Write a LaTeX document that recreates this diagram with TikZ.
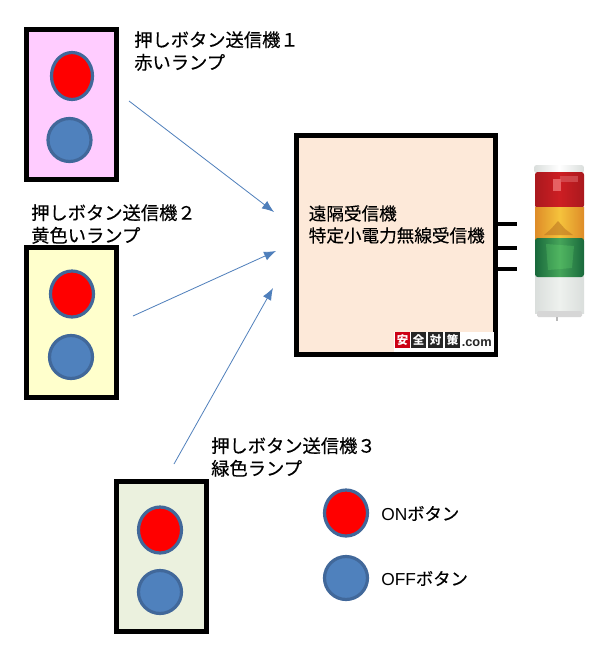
\documentclass[tikz,border=0pt]{standalone}
\usepackage{fontspec}
\setmainfont{Noto Sans CJK JP}
\newfontfamily\jpbold[FakeBold=0.3]{Noto Sans CJK JP}
\newfontfamily\latinsans{Liberation Sans}
\usetikzlibrary{arrows.meta}
\definecolor{rim}{HTML}{41689A}
\definecolor{bluefill}{HTML}{4F81BD}
\definecolor{arrowblue}{HTML}{4F7FBB}
\definecolor{lampred}{RGB}{205,30,35}
\definecolor{lampreddk}{RGB}{170,25,30}
\definecolor{lampyel}{RGB}{245,195,60}
\definecolor{lampyeldk}{RGB}{222,140,40}
\definecolor{lampgrn}{RGB}{70,165,90}
\definecolor{lampgrndk}{RGB}{25,105,60}
\definecolor{lampbase}{RGB}{238,241,238}
\definecolor{lampbasedk}{RGB}{218,222,220}
\tikzset{
  x=0.75pt,y=-0.75pt,
  panel/.style={draw=black,line width=3.75pt,inner sep=0pt,minimum width=67.5pt,minimum height=112.5pt},
  label/.style={anchor=north west,inner sep=0pt,font=\jpbold\fontsize{13.7pt}{17pt}\selectfont,align=left,text=black},
  small/.style={anchor=west,inner sep=0pt,font=\jpbold\fontsize{13pt}{16.5pt}\selectfont,text=black},
  link/.style={draw=arrowblue,line width=0.6pt,-{Latex[length=9pt,width=7pt]}},
  stub/.style={draw=black,line width=3pt},
  logobox/.style={minimum width=11.2pt,minimum height=12pt,inner sep=0pt,text=white,font=\bfseries\fontsize{8.6pt}{8.6pt}\selectfont}
}
\begin{document}
\begin{tikzpicture}
\useasboundingbox (0,0) rectangle (608,653);
\fill[white] (0,0) rectangle (608,653);
% transmitter panels
\node[panel,fill={rgb,255:red,255;green,204;blue,255}] (p1) at (71.5,104) {};
\node[panel,fill={rgb,255:red,255;green,255;blue,204}] (p2) at (71.5,322.5) {};
\node[panel,fill={rgb,255:red,235;green,241;blue,222}] (p3) at (161.5,556) {};
% buttons
\foreach \cx/\cy/\rx/\ry/\c in {72/76/20.5/23.5/red, 69.5/140/21.5/21.5/bluefill,
    72/294/21.5/23/red, 71/357/21.5/21.5/bluefill,
    160/530/21.5/23/red, 160/592/21.5/21.5/bluefill,
    346/513/21.5/23/red, 346/578/21.5/21.5/bluefill}
  \draw[rim,line width=2.4pt,fill=\c] (\cx,\cy) ellipse [x radius=\rx*0.75pt,y radius=\ry*0.75pt];
% labels
\node[label] (t1) at (134,31) {押しボタン送信機１\\赤いランプ};
\node[label] (t2) at (31,204) {押しボタン送信機２\\黄色いランプ};
\node[label] (t3) at (211,437) {押しボタン送信機３\\緑色ランプ};
\node[small] (on) at (381,513.5) {{\latinsans ON}ボタン};
\node[small] (off) at (381,578.5) {{\latinsans OFF}ボタン};
% receiver
\node[draw=black,line width=3.75pt,fill={rgb,255:red,253;green,233;blue,217},inner sep=0pt,minimum width=149.25pt,minimum height=164.25pt] (rx) at (396,245) {};
\node[anchor=north west,inner sep=0pt,align=left,font=\jpbold\fontsize{13.2pt}{16.5pt}\selectfont] (rxt) at (308.5,205) {遠隔受信機\\特定小電力無線受信機};
% logo
\fill[white] (394,332) rectangle (494,352);
\node[logobox,fill={rgb,255:red,204;green,0;blue,20}] (l1) at (402.5,340) {安};
\node[logobox,fill=black!85] (l2) at (418.5,340) {全};
\node[logobox,fill=black!85] (l3) at (435.5,340) {対};
\node[logobox,fill=black!85] (l4) at (452.5,340) {策};
\node[anchor=west,inner sep=0pt,font=\latinsans\bfseries\fontsize{9.6pt}{9pt}\selectfont,text=black!85] (l5) at (461.5,343) {.com};
% lamp
\shade[left color=lampbasedk,right color=lampbasedk,middle color=white,rounded corners=2pt] (534,165) rectangle (584,173);
\shade[left color=lampbasedk,right color=lampbasedk,middle color=lampbase] (535,276) rectangle (584,313);
\fill[white!84!black,rounded corners=1pt] (537,311) rectangle (582,317);
\fill[white!72!black] (556,317) rectangle (558,321);
\shade[left color=lampreddk,right color=lampreddk,middle color=lampred,rounded corners=2pt] (535,172) rectangle (584,208);
\fill[red!40!white,opacity=.55] (553,179) rectangle (561,191);
\fill[lampred!70!white,opacity=.6] (560,176) rectangle (578,182);
\shade[left color=lampyeldk,right color=lampyeldk,middle color=lampyel] (535,207) rectangle (584,239);
\fill[lampyeldk!85!black,opacity=.6] (551,229) -- (558,221) -- (565,229) -- (573,235) -- (544,235) -- cycle;
\shade[left color=lampgrndk,right color=lampgrndk,middle color=lampgrn,rounded corners=2pt] (535,238) rectangle (584,277);
\fill[green!50!white,opacity=.18] (546,244) -- (574,246) -- (572,268) -- (548,270) -- cycle;
% stubs
\coordinate (s1) at (517,224);
\coordinate (s2) at (517,248);
\coordinate (s3) at (517,269);
\draw[stub] (s1 -| rx.east) -- (s1);
\draw[stub] (s2 -| rx.east) -- (s2);
\draw[stub] (s3 -| rx.east) -- (s3);
% arrows
\coordinate (a1) at (129,101); \coordinate (b1) at (274,212);
\coordinate (a2) at (133,316); \coordinate (b2) at (276,251);
\coordinate (a3) at (174,464); \coordinate (b3) at (273,288);
\draw[link] (a1) -- (b1);
\draw[link] (a2) -- (b2);
\draw[link] (a3) -- (b3);
\end{tikzpicture}
\end{document}
